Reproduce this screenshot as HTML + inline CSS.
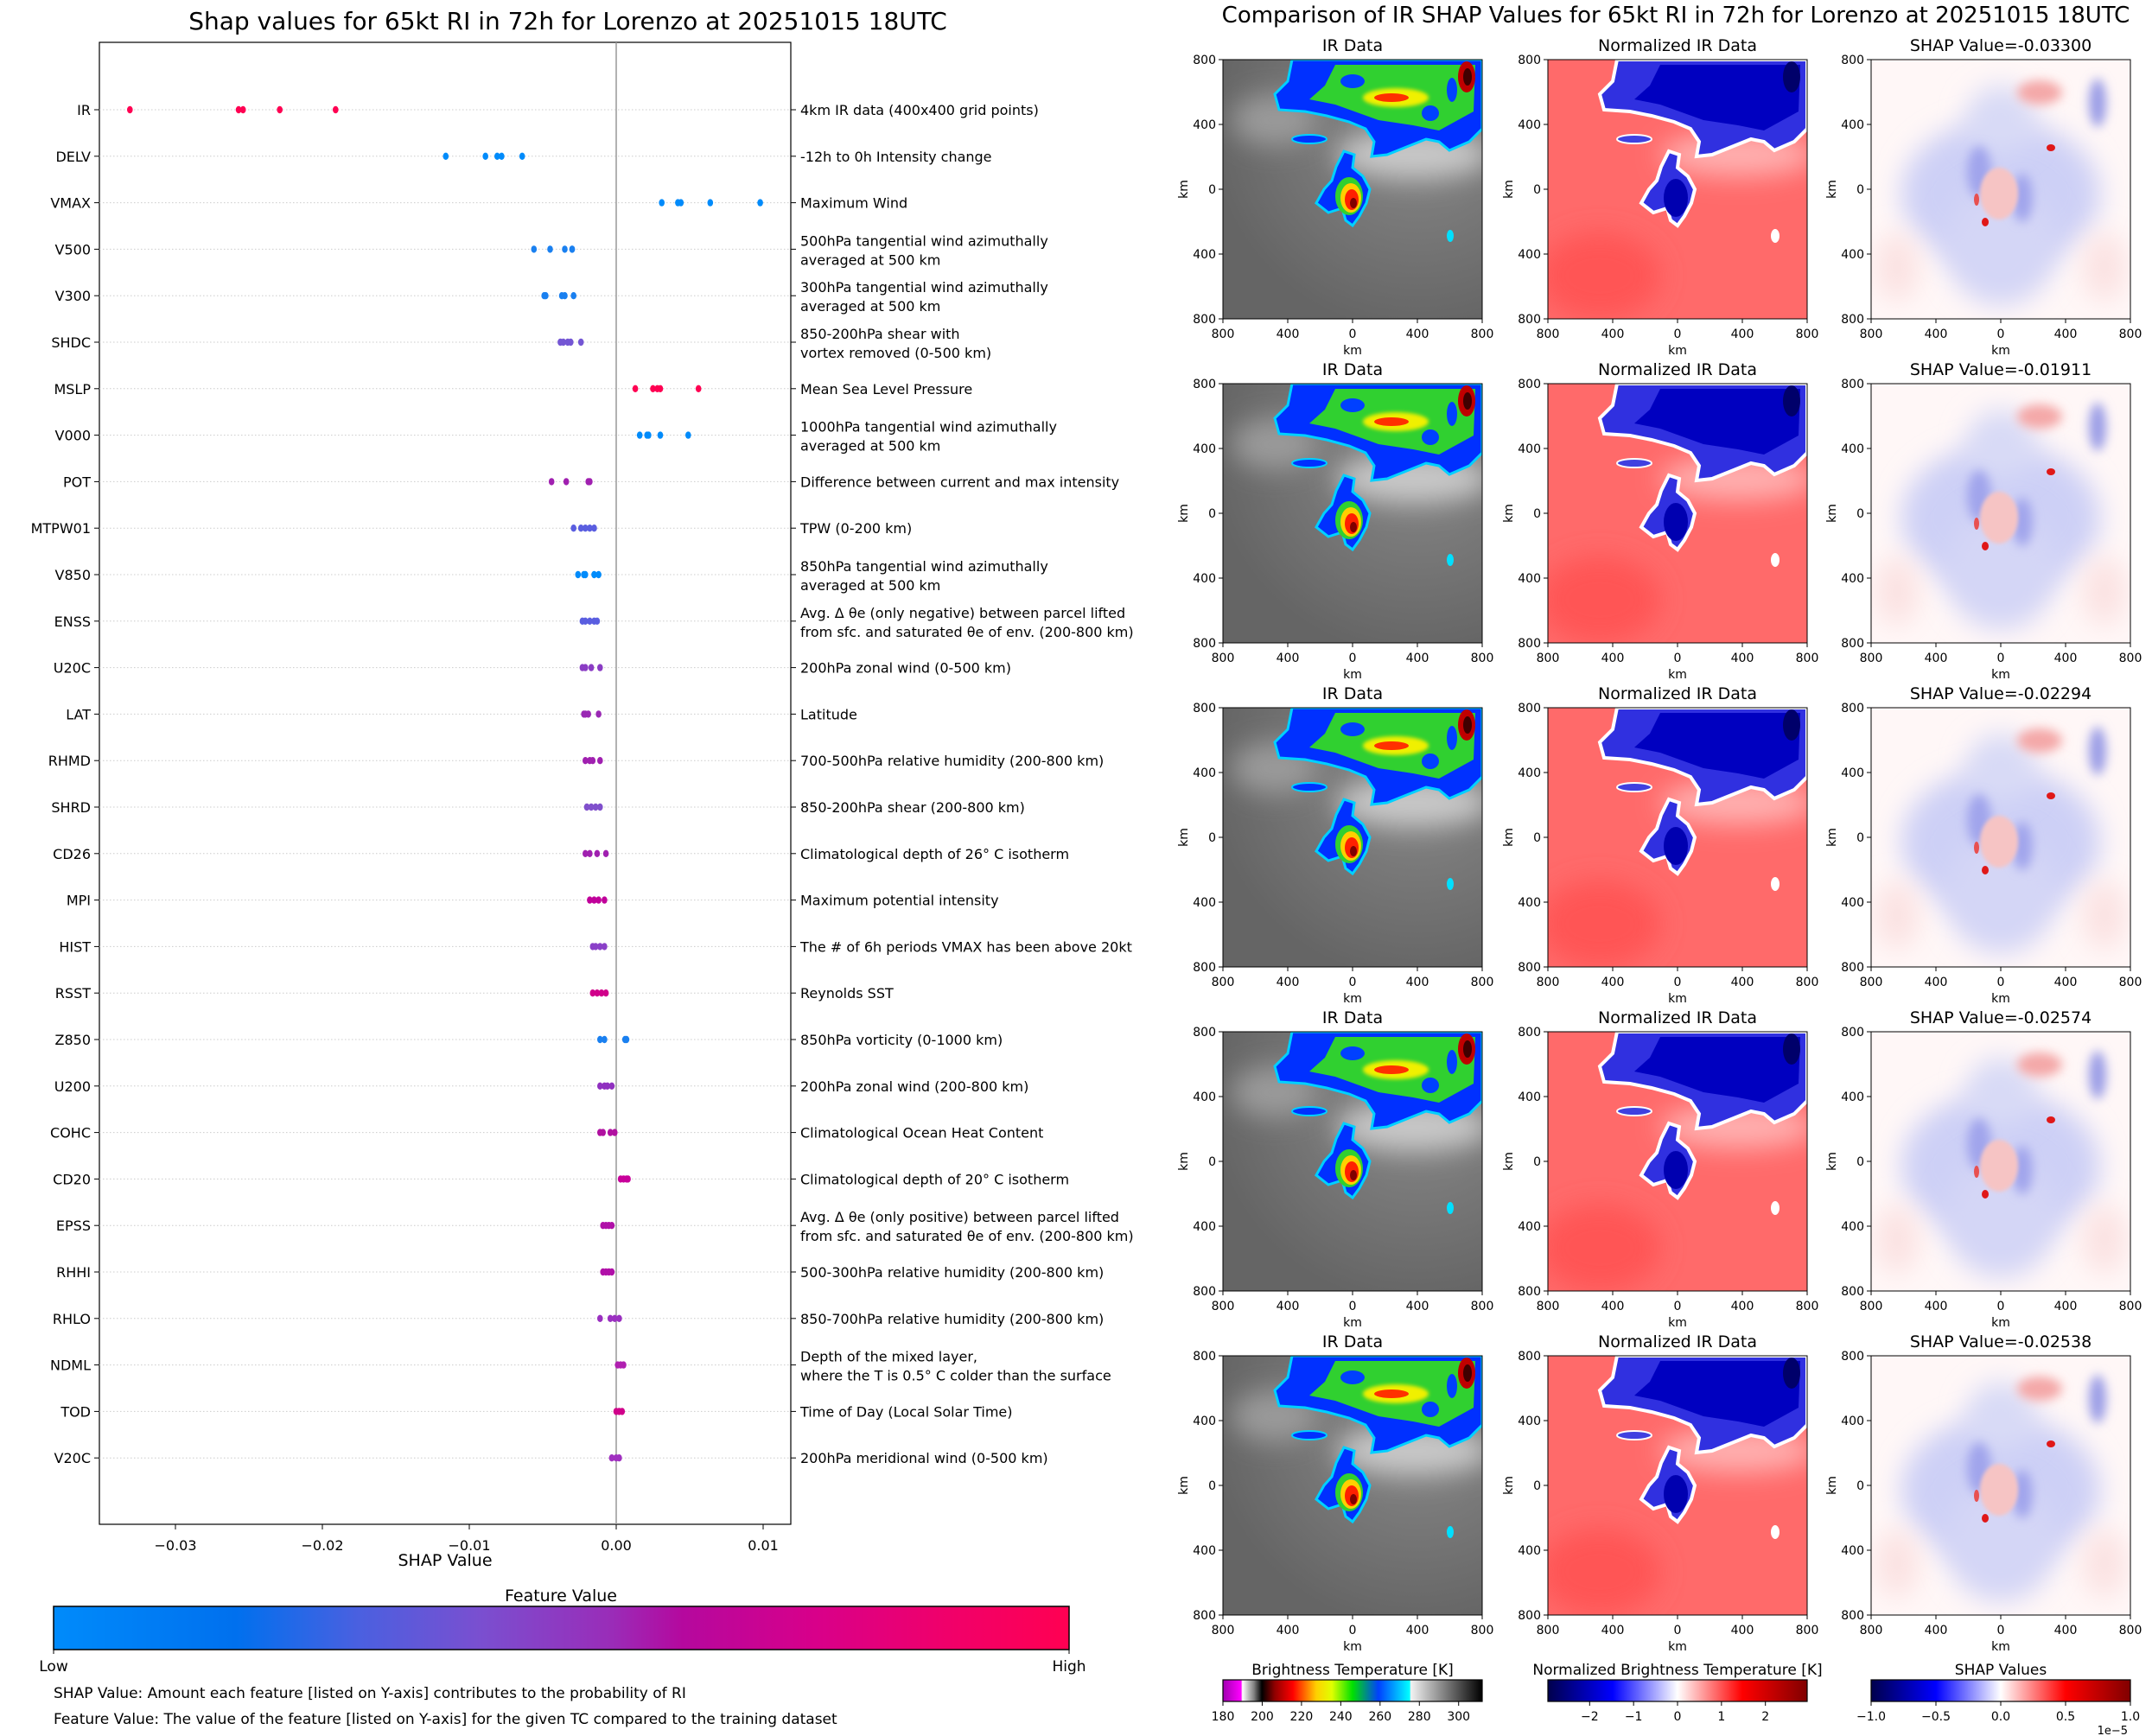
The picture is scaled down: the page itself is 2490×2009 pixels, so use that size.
<!DOCTYPE html>
<html><head><meta charset="utf-8">
<style>
html,body{margin:0;padding:0;background:#fff;}
svg{display:block;font-family:"DejaVu Sans","Liberation Sans",sans-serif;}
</style></head>
<body>
<svg id="fig" width="2490" height="2009" viewBox="0 0 2490 2009" xmlns="http://www.w3.org/2000/svg">
<defs>
  <linearGradient id="fvGrad" x1="0" x2="1" y1="0" y2="0">
    <stop offset="0" stop-color="#008bfb"/><stop offset="0.18" stop-color="#0070ee"/>
    <stop offset="0.3" stop-color="#4a60e0"/><stop offset="0.42" stop-color="#7a4fd0"/>
    <stop offset="0.55" stop-color="#9a2cb8"/><stop offset="0.62" stop-color="#b5089e"/>
    <stop offset="0.75" stop-color="#d8008a"/><stop offset="0.88" stop-color="#f0006a"/>
    <stop offset="1" stop-color="#ff0052"/>
  </linearGradient>
  <linearGradient id="btGrad" x1="0" x2="1">
    <stop offset="0" stop-color="#a000b0"/><stop offset="0.07" stop-color="#ff00ff"/>
    <stop offset="0.075" stop-color="#ffffff"/><stop offset="0.12" stop-color="#808080"/>
    <stop offset="0.15" stop-color="#000000"/><stop offset="0.2" stop-color="#900000"/>
    <stop offset="0.27" stop-color="#ff0000"/><stop offset="0.36" stop-color="#ffd000"/>
    <stop offset="0.42" stop-color="#e0ff00"/><stop offset="0.5" stop-color="#00e000"/>
    <stop offset="0.6" stop-color="#0040ff"/><stop offset="0.72" stop-color="#00ffff"/>
    <stop offset="0.725" stop-color="#f2f2f2"/><stop offset="1" stop-color="#000000"/>
  </linearGradient>
  <linearGradient id="seisGrad" x1="0" x2="1">
    <stop offset="0" stop-color="#00004c"/><stop offset="0.25" stop-color="#0000ff"/>
    <stop offset="0.5" stop-color="#ffffff"/><stop offset="0.75" stop-color="#ff0000"/>
    <stop offset="1" stop-color="#800000"/>
  </linearGradient>
  <radialGradient id="grayBg" cx="0.75" cy="0.25" r="0.8">
    <stop offset="0" stop-color="#8a8a8a"/><stop offset="1" stop-color="#656565"/>
  </radialGradient>
  <filter id="b2" x="-50%" y="-50%" width="200%" height="200%"><feGaussianBlur stdDeviation="2"/></filter>
  <filter id="b6" x="-100%" y="-100%" width="300%" height="300%"><feGaussianBlur stdDeviation="6"/></filter>
  <filter id="b15" x="-100%" y="-100%" width="300%" height="300%"><feGaussianBlur stdDeviation="15"/></filter>
  <path id="bandOuter" d="M80,0 L300,0 L300,80 L285,95 L262,105 L250,95 L235,92 L215,100 L190,110 L172,112 L175,95 L165,80 L146,72 L120,65 L95,60 L65,58 L60,40 L75,25 Z"/>
  <path id="bandInner" d="M130,6 L292,6 L290,60 L250,82 L220,76 L180,70 L130,52 L100,46 L118,30 Z"/>
  <path id="blobOuter" d="M140,106 L152,110 L150,125 L162,135 L170,150 L166,166 L158,181 L150,192 L142,186 L138,172 L122,177 L108,166 L117,150 L126,140 L131,124 Z"/>
  <symbol id="irImg" viewBox="0 0 300 300">
    <rect width="300" height="300" fill="url(#grayBg)"/>
    <ellipse cx="220" cy="110" rx="90" ry="28" fill="#c8c8c8" filter="url(#b15)"/>
    <ellipse cx="60" cy="70" rx="50" ry="30" fill="#9a9a9a" filter="url(#b15)"/>
    <use href="#bandOuter" fill="#0030ff" stroke="#00d0ff" stroke-width="3"/>
    <use href="#bandInner" fill="#30d030"/>
    <ellipse cx="150" cy="25" rx="14" ry="8" fill="#0040ff"/>
    <ellipse cx="240" cy="62" rx="10" ry="9" fill="#0040ff"/>
    <ellipse cx="265" cy="35" rx="6" ry="14" fill="#0040ff"/>
    <ellipse cx="200" cy="44" rx="38" ry="11" fill="#f0f000" filter="url(#b2)"/>
    <ellipse cx="195" cy="44" rx="20" ry="5" fill="#ff3000"/>
    <ellipse cx="282" cy="20" rx="10" ry="18" fill="#c00000"/>
    <ellipse cx="283" cy="20" rx="5" ry="10" fill="#400000"/>
    <ellipse cx="100" cy="92" rx="20" ry="5" fill="#0030ff" stroke="#00d0ff" stroke-width="2"/>
    <use href="#blobOuter" fill="#0030ff" stroke="#00d0ff" stroke-width="3"/>
    <ellipse cx="146" cy="158" rx="16" ry="22" fill="#30d030"/>
    <ellipse cx="148" cy="160" rx="12" ry="17" fill="#ffd000"/>
    <ellipse cx="149" cy="162" rx="8" ry="12" fill="#ff2000"/>
    <ellipse cx="151" cy="166" rx="4" ry="6" fill="#800000"/>
    <ellipse cx="263" cy="204" rx="4" ry="7" fill="#00e0ff"/>
  </symbol>
  <symbol id="nrmImg" viewBox="0 0 300 300">
    <rect width="300" height="300" fill="#ff6a6a"/>
    <ellipse cx="60" cy="250" rx="70" ry="50" fill="#ff5555" filter="url(#b15)"/>
    <ellipse cx="220" cy="110" rx="90" ry="25" fill="#ffb0b0" filter="url(#b15)"/>
    <use href="#bandOuter" fill="#3030e0" stroke="#ffffff" stroke-width="4"/>
    <use href="#bandInner" fill="#0000c0"/>
    <ellipse cx="282" cy="20" rx="10" ry="18" fill="#00006a"/>
    <ellipse cx="100" cy="92" rx="20" ry="5" fill="#4040e0" stroke="#fff" stroke-width="2"/>
    <use href="#blobOuter" fill="#3030e0" stroke="#ffffff" stroke-width="4"/>
    <ellipse cx="148" cy="160" rx="14" ry="22" fill="#0000b0"/>
    <ellipse cx="263" cy="204" rx="5" ry="8" fill="#ffffff"/>
  </symbol>
  <symbol id="shapImg" viewBox="0 0 300 300">
    <rect width="300" height="300" fill="#fff7f7"/>
    <ellipse cx="150" cy="155" rx="115" ry="85" fill="#cdd0f6" filter="url(#b15)"/>
    <ellipse cx="150" cy="215" rx="65" ry="70" fill="#d4d6f6" filter="url(#b15)"/>
    <ellipse cx="150" cy="70" rx="40" ry="40" fill="#d8daf6" filter="url(#b15)"/>
    <ellipse cx="125" cy="130" rx="14" ry="30" fill="#a0a4ec" filter="url(#b6)"/>
    <ellipse cx="175" cy="160" rx="12" ry="28" fill="#a0a4ec" filter="url(#b6)"/>
    <ellipse cx="148" cy="155" rx="22" ry="30" fill="#f6c4c4" filter="url(#b2)"/>
    <ellipse cx="195" cy="38" rx="26" ry="14" fill="#f4a8a8" filter="url(#b6)"/>
    <ellipse cx="262" cy="50" rx="10" ry="28" fill="#9a9ce6" filter="url(#b6)"/>
    <ellipse cx="30" cy="240" rx="25" ry="40" fill="#fbe2e2" filter="url(#b15)"/>
    <ellipse cx="270" cy="240" rx="25" ry="40" fill="#fbe2e2" filter="url(#b15)"/>
    <ellipse cx="208" cy="102" rx="5" ry="4" fill="#e01818"/>
    <ellipse cx="132" cy="188" rx="4" ry="5" fill="#e01818"/>
    <ellipse cx="122" cy="162" rx="3" ry="7" fill="#e85050"/>
  </symbol>
</defs>

<text x="657" y="34" font-size="28" text-anchor="middle">Shap values for 65kt RI in 72h for Lorenzo at 20251015 18UTC</text>
<text x="1939" y="26" font-size="26" text-anchor="middle">Comparison of IR SHAP Values for 65kt RI in 72h for Lorenzo at 20251015 18UTC</text>

<g id="leftChart"></g>
<g id="panels"></g>
</svg>

<script>
const NS = "http://www.w3.org/2000/svg";
const features = ["IR","DELV","VMAX","V500","V300","SHDC","MSLP","V000","POT","MTPW01","V850","ENSS","U20C","LAT","RHMD","SHRD","CD26","MPI","HIST","RSST","Z850","U200","COHC","CD20","EPSS","RHHI","RHLO","NDML","TOD","V20C"];
const descriptions = [
 ["4km IR data (400x400 grid points)"],["-12h to 0h Intensity change"],["Maximum Wind"],
 ["500hPa tangential wind azimuthally","averaged at 500 km"],["300hPa tangential wind azimuthally","averaged at 500 km"],
 ["850-200hPa shear with","vortex removed (0-500 km)"],["Mean Sea Level Pressure"],
 ["1000hPa tangential wind azimuthally","averaged at 500 km"],["Difference between current and max intensity"],
 ["TPW (0-200 km)"],["850hPa tangential wind azimuthally","averaged at 500 km"],
 ["Avg. \u0394 \u03b8e (only negative) between parcel lifted","from sfc. and saturated \u03b8e of env. (200-800 km)"],
 ["200hPa zonal wind (0-500 km)"],["Latitude"],["700-500hPa relative humidity (200-800 km)"],
 ["850-200hPa shear (200-800 km)"],["Climatological depth of 26\u00b0 C isotherm"],["Maximum potential intensity"],
 ["The # of 6h periods VMAX has been above 20kt"],["Reynolds SST"],["850hPa vorticity (0-1000 km)"],
 ["200hPa zonal wind (200-800 km)"],["Climatological Ocean Heat Content"],["Climatological depth of 20\u00b0 C isotherm"],
 ["Avg. \u0394 \u03b8e (only positive) between parcel lifted","from sfc. and saturated \u03b8e of env. (200-800 km)"],
 ["500-300hPa relative humidity (200-800 km)"],["850-700hPa relative humidity (200-800 km)"],
 ["Depth of the mixed layer,","where the T is 0.5\u00b0 C colder than the surface"],["Time of Day (Local Solar Time)"],
 ["200hPa meridional wind (0-500 km)"]];
const shapValues = [
 [-0.0331,-0.0257,-0.0254,-0.0229,-0.0191],[-0.0116,-0.0089,-0.0081,-0.0078,-0.0064],
 [0.0031,0.0042,0.0044,0.0064,0.0098],[-0.0056,-0.0045,-0.0035,-0.0030,-0.0030],
 [-0.0049,-0.0048,-0.0037,-0.0035,-0.0029],[-0.0038,-0.0036,-0.0033,-0.0031,-0.0024],
 [0.0013,0.0025,0.0028,0.0030,0.0056],[0.0016,0.0021,0.0022,0.0030,0.0049],
 [-0.0044,-0.0034,-0.0019,-0.0018],[-0.0029,-0.0024,-0.0021,-0.0018,-0.0015],
 [-0.0026,-0.0022,-0.0021,-0.0015,-0.0012],[-0.0023,-0.0021,-0.0018,-0.0015,-0.0013],
 [-0.0023,-0.0021,-0.0017,-0.0011],[-0.0022,-0.0021,-0.0019,-0.0012],
 [-0.0021,-0.0018,-0.0016,-0.0011],[-0.0020,-0.0017,-0.0014,-0.0011],
 [-0.0021,-0.0018,-0.0013,-0.0007],[-0.0018,-0.0015,-0.0012,-0.0008],
 [-0.0016,-0.0014,-0.0011,-0.0008],[-0.0016,-0.0013,-0.0010,-0.0007],
 [-0.0011,-0.0008,0.0006,0.0007],[-0.0011,-0.0008,-0.0006,-0.0003],
 [-0.0011,-0.0009,-0.0004,-0.0001],[0.0003,0.0005,0.0007,0.0008],
 [-0.0009,-0.0007,-0.0005,-0.0003],[-0.0009,-0.0007,-0.0005,-0.0003],
 [-0.0011,-0.0004,-0.0001,0.0002],[0.0001,0.0003,0.0005],
 [0.0000,0.0002,0.0004],[-0.0003,0.0000,0.0002]];
const featureColors = ["#ff0052","#008bfb","#008bfb","#1a80f0","#1a80f0","#7456d4","#ff0052","#008bfb","#a020b0","#5a5ee0","#008bfb","#5a5ee0","#8a3cc4","#9a28b4","#a020b0","#8050cc","#a020b0","#c0009a","#8a40c8","#d0008a","#1a80f0","#9030c0","#b010a0","#c8009a","#b010a8","#b010a8","#9a30c0","#b020b0","#d0008a","#a030c0"];
const xTicks = [-0.03,-0.02,-0.01,0.00,0.01];
const xTickLabels = ["\u22120.03","\u22120.02","\u22120.01","0.00","0.01"];

const AX = {left:115,right:915,top:49,bottom:1764};
const xS = v => 713 + v*17000;
const yS = i => 127 + i*53.8;

function mk(tag, attrs, parent, text){
  const e = document.createElementNS(NS, tag);
  for (const k in attrs) e.setAttribute(k, attrs[k]);
  if (text !== undefined) e.textContent = text;
  parent.appendChild(e);
  return e;
}
const L = document.getElementById('leftChart');
let fr = mk('rect',{x:AX.left,y:AX.top,width:AX.right-AX.left,height:AX.bottom-AX.top,fill:'none',stroke:'#000','stroke-width':1.2},L);


let zl = mk('line',{x1:xS(0),x2:xS(0),y1:AX.top,y2:AX.bottom,stroke:'#999','stroke-width':1.5},L);


features.forEach((f,i)=>{
  const y = yS(i);
  const g = mk('line',{x1:AX.left,x2:AX.right,y1:y,y2:y,stroke:'#ccc','stroke-width':1,'stroke-dasharray':'1.5,2.5'},L);
  
  
  mk('line',{x1:AX.left-6,x2:AX.left,y1:y,y2:y,stroke:'#000'},L);
  mk('line',{x1:AX.right,x2:AX.right+6,y1:y,y2:y,stroke:'#000'},L);
  const t = mk('text',{x:AX.left-10,y:y+6,'font-size':16,'text-anchor':'end'},L,f);
  
  
  const d = descriptions[i];
  const dt = mk('text',{x:AX.right+11,'font-size':16},L);
  
  
  if (d.length===1){ mk('tspan',{x:AX.right+11,y:y+6},dt,d[0]); }
  else { mk('tspan',{x:AX.right+11,y:y-4},dt,d[0]); mk('tspan',{x:AX.right+11,y:y+18},dt,d[1]); }
  shapValues[i].forEach(v=>{
    const c = mk('ellipse',{cx:xS(v),cy:y,rx:3.3,ry:4.2,fill:featureColors[i]},L);
    
    
  });
});
xTicks.forEach((v,k)=>{
  mk('line',{x1:xS(v),x2:xS(v),y1:AX.bottom,y2:AX.bottom+6,stroke:'#000'},L);
  const t = mk('text',{x:xS(v),y:AX.bottom+30,'font-size':16,'text-anchor':'middle'},L,xTickLabels[k]);
  
  
});
let xl = mk('text',{x:515,y:1812,'font-size':19,'text-anchor':'middle'},L,'SHAP Value');


let ft = mk('text',{x:649,y:1853,'font-size':19,'text-anchor':'middle'},L,'Feature Value');


let cb = mk('rect',{x:62,y:1859,width:1175,height:50,fill:'url(#fvGrad)',stroke:'#000','stroke-width':1.5},L);


mk('line',{x1:62,x2:62,y1:1909,y2:1914,stroke:'#000'},L);
mk('line',{x1:1237,x2:1237,y1:1909,y2:1914,stroke:'#000'},L);
let lo = mk('text',{x:62,y:1934,'font-size':17,'text-anchor':'middle'},L,'Low');


let hi = mk('text',{x:1237,y:1934,'font-size':17,'text-anchor':'middle'},L,'High');


let n1 = mk('text',{x:62,y:1965,'font-size':17},L,'SHAP Value: Amount each feature [listed on Y-axis] contributes to the probability of RI');


let n2 = mk('text',{x:62,y:1995,'font-size':17},L,'Feature Value: The value of the feature [listed on Y-axis] for the given TC compared to the training dataset');



const shapTitles = ["SHAP Value=-0.03300","SHAP Value=-0.01911","SHAP Value=-0.02294","SHAP Value=-0.02574","SHAP Value=-0.02538"];
const colTitles = ["IR Data","Normalized IR Data"];
const kmTicks = ["800","400","0","400","800"];
const colX = [1415,1791,2165];
const rowY = [69,444,819,1194,1569];
const P = document.getElementById('panels');
const syms = ['#irImg','#nrmImg','#shapImg'];
rowY.forEach((ry,r)=>{
  colX.forEach((cx,c)=>{
    const W=300,H=300;
    const u = mk('use',{href:syms[c],x:cx,y:ry,width:W,height:H},P);
    
    
    mk('rect',{x:cx,y:ry,width:W,height:H,fill:'none',stroke:'#000','stroke-width':1},P);
    const tt = mk('text',{x:cx+W/2,y:ry-10,'font-size':19,'text-anchor':'middle'},P, c<2?colTitles[c]:shapTitles[r]);
    
    
    kmTicks.forEach((lab,k)=>{
      const yy = ry + k*H/4, xx = cx + k*W/4;
      mk('line',{x1:cx-5,x2:cx,y1:yy,y2:yy,stroke:'#000'},P);
      mk('text',{x:cx-8,y:yy+5,'font-size':14,'text-anchor':'end'},P,lab);
      mk('line',{x1:xx,x2:xx,y1:ry+H,y2:ry+H+5,stroke:'#000'},P);
      mk('text',{x:xx,y:ry+H+22,'font-size':14,'text-anchor':'middle'},P,lab);
    });
    const yl = mk('text',{x:0,y:0,'font-size':14,'text-anchor':'middle',transform:`translate(${cx-41},${ry+H/2}) rotate(-90)`},P,'km');
    
    
    const xlb = mk('text',{x:cx+W/2,y:ry+H+41,'font-size':14,'text-anchor':'middle'},P,'km');
    
    
  });
});
const cbTitles = ["Brightness Temperature [K]","Normalized Brightness Temperature [K]","SHAP Values"];
const cbFills = ['url(#btGrad)','url(#seisGrad)','url(#seisGrad)'];
const btTicks = [180,200,220,240,260,280,300];
const nrmTicks = [-2,-1,0,1,2];
const shapTicks = [-1.0,-0.5,0.0,0.5,1.0];
const cbRanges = [[180,312],[-2.95,2.95],[-1,1]];
const cbTicksAll = [btTicks,nrmTicks,shapTicks];
colX.forEach((cx,c)=>{
  const W=300;
  const t = mk('text',{x:cx+W/2,y:1938,'font-size':17,'text-anchor':'middle'},P,cbTitles[c]);
  
  
  const r = mk('rect',{x:cx,y:1944,width:W,height:25,fill:cbFills[c],stroke:'#000','stroke-width':1.2},P);
  
  
  const [a,b] = cbRanges[c];
  cbTicksAll[c].forEach(v=>{
    const xx = cx + (v-a)/(b-a)*W;
    mk('line',{x1:xx,x2:xx,y1:1969,y2:1974,stroke:'#000'},P);
    const lab = c===2 ? v.toFixed(1).replace('-','\u2212') : String(v).replace('-','\u2212');
    mk('text',{x:xx,y:1991,'font-size':14,'text-anchor':'middle'},P,lab);
  });
});
const ex = mk('text',{x:2462,y:2007,'font-size':13,'text-anchor':'end'},P,'1e\u22125');


</script>
</body></html>
